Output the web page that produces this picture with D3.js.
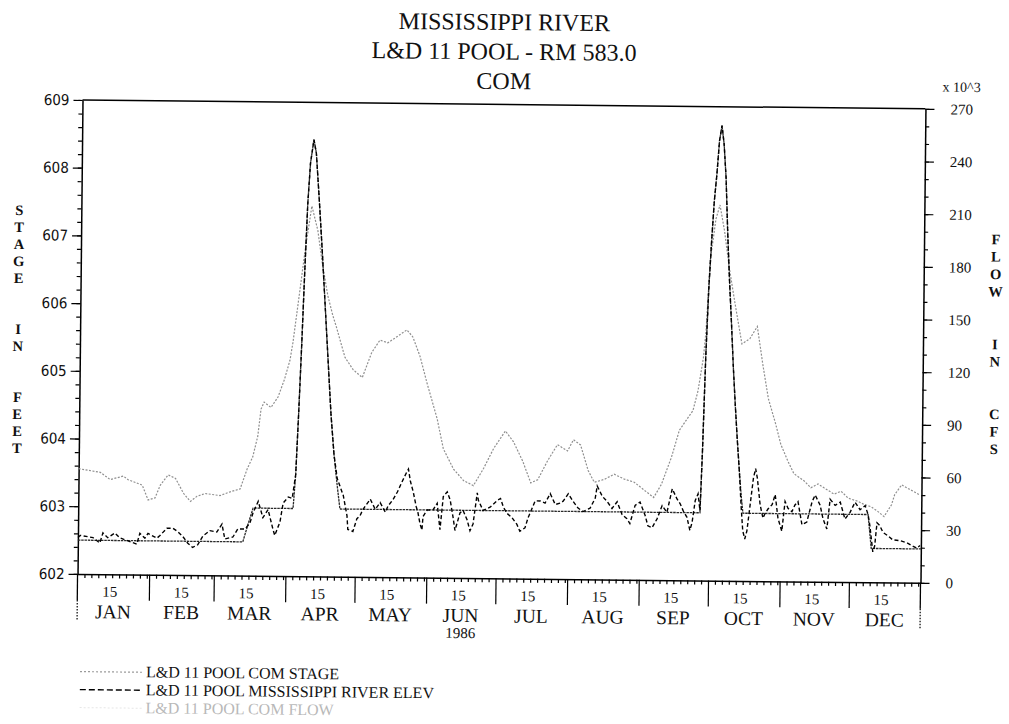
<!DOCTYPE html>
<html>
<head>
<meta charset="utf-8">
<script src="https://cdn.jsdelivr.net/npm/d3@7"></script>
<style>
  body { margin: 0; background: #fff; }
  svg { display: block; }
</style>
</head>
<body>
<svg id="chart" width="1009" height="724"></svg>
<script>
// ---- text ----
const titleLines = ["MISSISSIPPI RIVER", "L&D 11 POOL - RM 583.0", "COM"];
const monthNames = ["JAN","FEB","MAR","APR","MAY","JUN","JUL","AUG","SEP","OCT","NOV","DEC"];
const yearLabel = "1986";
const flowUnit = "x 10^3";
const leftTitle = "STAGE  IN  FEET";
const rightTitle = "FLOW  IN  CFS";
const legendLabels = [
  "L&D 11 POOL COM STAGE",
  "L&D 11 POOL MISSISSIPPI RIVER ELEV",
  "L&D 11 POOL COM FLOW"
];

// ---- tick values ----
const stageTicks = [602, 603, 604, 605, 606, 607, 608, 609];
const flowTicks = [0, 30, 60, 90, 120, 150, 180, 210, 240, 270];

// ---- series: [day of year (0 = Jan 1), value] ----
// pool stage, feet
const stage = [
  [0,602.5],[71.4,602.5],[73.5,602.75],[75.7,603.0],[93,603.0],[94,603.5],[95,604.4],[96,605.4],
  [97,606.5],[98,607.5],[99,608.1],[100.4,608.45],[101.5,608.25],[103,607.55],[104.5,606.8],
  [106,606.0],[107.5,605.2],[109,604.4],[110.5,603.8],[112,603.35],[113.3,603.0],[269.2,603.0],
  [270,603.9],[271,605.3],[272,606.3],[273,607.0],[274,607.6],[275,608.0],[276,608.5],[277,608.72],
  [278,608.45],[279,607.95],[280,607.1],[281,606.4],[282,605.8],[283,605.15],[284,604.6],
  [285,604.1],[286,603.65],[287,603.25],[287.8,603.0],[342,603.0],[343.5,602.5],[365,602.5]
];

// river elevation, feet
const elev = [
  [0,602.54],[1,602.57],[6.5,602.54],[9.5,602.46],[10.8,602.61],[12.9,602.54],[16,602.61],[18.1,602.54],
  [25.5,602.45],[26.8,602.61],[29,602.54],[30.3,602.61],[34.2,602.54],[35.5,602.58],[38.5,602.69],
  [41.1,602.69],[43.2,602.64],[45.4,602.57],[47.6,602.47],[49.7,602.41],[51.9,602.45],[54.1,602.58],
  [57.1,602.66],[60.1,602.64],[62.3,602.76],[63.6,602.54],[67.1,602.57],[69.2,602.69],[72.3,602.69],
  [74.4,602.78],[75.7,602.93],[77.9,603.1],[80,602.86],[82.2,602.98],[84.4,602.69],[85.2,602.6],
  [87.4,602.8],[88.7,603.08],[90.9,603.17],[92.6,603.15],
  [94,603.5],[95,604.4],[96,605.4],[97,606.5],[98,607.5],[99,608.1],[100.4,608.45],[101.5,608.25],
  [103,607.55],[104.5,606.8],[106,606.0],[107.5,605.2],[109,604.4],[110.5,603.8],[112,603.45],
  [114.7,603.2],[116.4,602.9],[116.8,602.7],[119,602.67],[120.7,602.86],[122,602.9],[123.3,603.0],
  [126.4,603.15],[128.6,603.0],[130.7,603.1],[133,602.96],[134.1,603.05],[136.3,603.15],[138.1,603.26],
  [140.2,603.42],[142,603.55],[142.8,603.6],[143.7,603.42],[145,603.26],[146.3,603.05],[147.1,602.96],
  [148,602.8],[148.9,602.7],[149.3,602.9],[151.1,603.0],[153.6,603.0],[155.4,603.1],[156.7,602.71],
  [158,603.2],[159.7,603.27],[161,603.15],[162.3,602.9],[163.2,602.7],[165.3,602.96],[166.6,603.0],
  [168.4,602.86],[169.7,602.7],[171,602.8],[172.7,603.26],[173.2,603.15],[175.3,603.0],[178.3,603.05],
  [181.4,603.15],[182.8,603.18],[184.1,603.05],[185.7,602.96],[187.8,602.9],[190,602.8],[191.3,602.7],
  [193.5,602.75],[194.8,602.9],[196.5,603.04],[197.8,603.15],[200,603.15],[202.1,603.12],[204.3,603.26],
  [206.5,603.1],[208.6,603.12],[209.9,603.15],[212.1,603.26],[214.2,603.15],[216.4,603.05],[218.6,603.0],
  [221.6,603.05],[223.8,603.2],[224.6,603.38],[226.8,603.23],[229,603.15],[231.1,603.05],[233.3,603.15],
  [235.5,602.96],[237.6,602.9],[238.9,602.83],[241.1,603.1],[243.2,603.15],[245.4,602.96],[246.7,602.8],
  [248.5,602.77],[250.6,602.9],[252.8,603.1],[254.9,603.0],[257.1,603.35],[259.2,603.2],[260.6,603.13],
  [261.9,603.03],[263.6,602.93],[264.9,602.74],[265.8,602.85],[267.1,603.18],[268.3,603.28],[269.2,603.03],
  [270,603.9],[271,605.3],[272,606.3],[273,607.0],[274,607.6],[275,608.0],[276,608.5],[277,608.72],
  [278,608.45],[279,607.95],[280,607.1],[281,606.4],[282,605.8],[283,605.15],[284,604.6],[285,604.1],
  [286,603.65],[287,603.1],[287.8,602.74],[288.7,602.62],[289.6,602.74],[290.9,603.13],[292.2,603.52],
  [293.1,603.66],[293.9,603.52],[295.2,603.13],[296.5,602.93],[297.4,603.0],[298.7,603.07],[300.4,603.13],
  [301.7,603.28],[303,602.93],[304.7,602.74],[306,603.18],[307.3,603.08],[309,603.03],[310.3,603.13],
  [311.6,603.18],[313.4,602.84],[315.5,602.88],[317.7,603.18],[319,603.28],[321.2,603.13],[322.5,602.93],
  [324.2,602.78],[325.5,603.22],[327.7,603.13],[329.9,603.18],[332,602.93],[334.2,603.03],[336.3,603.18],
  [338.5,603.07],[340.7,603.13],[342,603.0],[342.8,602.84],[343.7,602.59],[344.2,602.45],[345,602.54],
  [345.9,602.88],[347.1,602.84],[348.5,602.74],[350.6,602.69],[352.8,602.63],[355.8,602.62],
  [358.9,602.59],[361.5,602.54],[363.2,602.51],[364.6,602.55]
];

// discharge, thousands of cfs
const flow = [
  [0,60],[9.4,58],[13.7,54],[19.4,56],[21.5,54],[27.6,51],[30.2,42.6],[33.2,43.8],[35.4,51],[38.8,57],
  [42,55],[45.5,46.6],[48.5,42],[51.4,45],[54.9,46.6],[61.3,45.5],[65.7,47.7],[70,49.4],[73,61],
  [75.3,67.6],[77.4,79.5],[78.7,95],[80,99],[83,96],[86,102],[88.7,112],[91,123],[92.2,133],[95,163],
  [97,185],[99.8,211],[102.5,197],[104.5,179],[107.1,160],[109.3,149],[111,142],[114.8,125],[118.4,118],
  [122.4,113.6],[126.4,128],[129.9,135],[133.3,133.5],[137.2,137],[141.5,141],[144.1,137],[147.3,126],
  [150.4,111],[155,90.5],[157.8,73.5],[162.3,62],[166.7,55.5],[171,52.7],[175.3,62.5],[179.6,74],
  [184.6,84],[188.1,78],[192.2,67],[195.8,54.6],[198.8,56.4],[203,67.3],[207.2,76.5],[211.6,73],
  [214.1,79.4],[217.2,76.5],[220.6,62],[223.3,55.3],[227.6,57],[231.9,60],[236.3,57.3],[240.6,55.6],
  [245.1,51],[249.1,47],[252.4,54.6],[256.6,70],[259.9,85.4],[263.6,92.7],[265.7,96.7],[267.8,108],
  [270,127],[271,142],[272.5,182],[274.8,206],[276.5,214],[278.6,199],[280.7,179],[283.3,159],
  [286.6,135],[290,138],[293.2,145],[295.8,123],[298.3,104],[301.6,89.5],[303.9,78],[307,68.6],
  [309.7,61.4],[314.1,57.4],[317.1,53.5],[320.2,55.7],[322.8,53.5],[327.2,50],[330.2,51.7],[333.3,47.8],
  [337.6,46],[340.2,44.3],[343.3,43],[346.3,40.3],[348.9,37.5],[352.1,44.3],[353.4,50],[356.4,55.7],
  [359.4,53.5],[362,51.7],[364.2,50]
];

// ---- layout ----
const X0 = 80, X1 = 923, Y0 = 104.4, Y1 = 578.4;
const SERIF = "'Liberation Serif','Times New Roman',serif";
const NARROW = "'Liberation Sans Narrow','DejaVu Sans Condensed','Liberation Sans',sans-serif";

const yearStart = new Date(1986, 0, 1), yearEnd = new Date(1987, 0, 1);
const dayDate = d => new Date(yearStart.getTime() + d * 864e5);

const x = d3.scaleTime().domain([yearStart, yearEnd]).range([X0, X1]);
const yStage = d3.scaleLinear().domain([602, 609]).range([Y1, Y0]);
const yFlow = d3.scaleLinear().domain([0, 270]).range([Y1, Y0]);

const svg = d3.select("#chart");
svg.append("rect").attr("width", 1009).attr("height", 724).attr("fill", "#fff");

// the whole sheet sits slightly skewed on the page
const g = svg.append("g").attr("transform", "rotate(0.6,501.5,341.4)");

// ---- title ----
g.append("g").selectAll("text").data(titleLines).join("text")
  .attr("x", 501).attr("y", (d, i) => 30 + i * 29.5)
  .attr("text-anchor", "middle")
  .attr("font-family", SERIF).attr("font-size", 24).attr("fill", "#111")
  .text(d => d);

g.append("text").attr("x", 959).attr("y", 87).attr("text-anchor", "middle")
  .attr("font-family", SERIF).attr("font-size", 14).attr("fill", "#111")
  .text(flowUnit);

// ---- axes ----
function styleAxis(sel) {
  sel.selectAll("path.domain").attr("stroke", "#000").attr("stroke-width", 1.5);
  sel.selectAll(".tick line").attr("stroke", "#000").attr("stroke-width", 1.2);
}

// left: stage
const stageMinor = d3.range(0, 36).map(i => 602 + i * 0.2);
const leftMinor = g.append("g").attr("transform", `translate(${X0},0)`)
  .call(d3.axisLeft(yStage).tickValues(stageMinor).tickSize(4).tickSizeOuter(0).tickFormat(""));
leftMinor.select("path.domain").remove();
styleAxis(leftMinor);

const leftAxis = g.append("g").attr("transform", `translate(${X0},0)`)
  .call(d3.axisLeft(yStage).tickValues(stageTicks).tickSize(9).tickSizeOuter(0)
    .tickPadding(4).tickFormat(d3.format("d")));
styleAxis(leftAxis);
leftAxis.selectAll("text").attr("font-family", NARROW).attr("font-size", 15).attr("fill", "#111");

// right: flow
const flowMinor = d3.range(0, 271, 10);
const rightMinor = g.append("g").attr("transform", `translate(${X1},0)`)
  .call(d3.axisRight(yFlow).tickValues(flowMinor).tickSize(4).tickSizeOuter(0).tickFormat(""));
rightMinor.select("path.domain").remove();
styleAxis(rightMinor);

const rightAxis = g.append("g").attr("transform", `translate(${X1},0)`)
  .call(d3.axisRight(yFlow).tickValues(flowTicks).tickSize(9).tickSizeOuter(0)
    .tickPadding(16).tickFormat(d3.format("d")));
styleAxis(rightAxis);
rightAxis.selectAll("text").attr("font-family", SERIF).attr("font-size", 15).attr("fill", "#111");

// top frame line
g.append("line").attr("x1", X0).attr("x2", X1).attr("y1", Y0).attr("y2", Y0)
  .attr("stroke", "#000").attr("stroke-width", 1.5);

// bottom: days within each month
const minorDates = [];
for (let m = 0; m < 12; m++) {
  const n = new Date(1986, m + 1, 0).getDate();
  for (let d = 4; d <= n; d += 3) minorDates.push(new Date(1986, m, d));
}
const bottomMinor = g.append("g").attr("transform", `translate(0,${Y1})`)
  .call(d3.axisBottom(x).tickValues(minorDates).tickSize(4).tickSizeOuter(0).tickFormat(""));
styleAxis(bottomMinor);

const monthStarts = d3.range(1, 12).map(m => new Date(1986, m, 1));
const bottomMonths = g.append("g").attr("transform", `translate(0,${Y1})`)
  .call(d3.axisBottom(x).tickValues(monthStarts).tickSize(26).tickSizeOuter(0).tickFormat(""));
bottomMonths.select("path.domain").remove();
styleAxis(bottomMonths);

// year ends: long edge marks
[yearStart, yearEnd].forEach(dt => {
  g.append("line").attr("x1", x(dt)).attr("x2", x(dt)).attr("y1", Y1).attr("y2", Y1 + 26)
    .attr("stroke", "#000").attr("stroke-width", 1.3);
  g.append("line").attr("x1", x(dt)).attr("x2", x(dt)).attr("y1", Y1 + 26).attr("y2", Y1 + 46)
    .attr("stroke", "#000").attr("stroke-width", 1.2).attr("stroke-dasharray", "1.5,1.5");
});

// "15" marks and month names
g.append("g").selectAll("text").data(monthNames).join("text")
  .attr("x", (d, i) => x(new Date(1986, i, 15)))
  .attr("y", Y1 + 22.5).attr("text-anchor", "middle")
  .attr("font-family", SERIF).attr("font-size", 15).attr("fill", "#111")
  .text("15");

g.append("g").selectAll("text").data(monthNames).join("text")
  .attr("x", (d, i) => (x(new Date(1986, i, 1)) + x(new Date(1986, i + 1, 1))) / 2)
  .attr("y", Y1 + 44).attr("text-anchor", "middle")
  .attr("font-family", SERIF).attr("font-size", 19.5).attr("fill", "#111")
  .text(d => d);

g.append("text")
  .attr("x", (x(new Date(1986, 5, 1)) + x(new Date(1986, 6, 1))) / 2)
  .attr("y", Y1 + 60).attr("text-anchor", "middle")
  .attr("font-family", SERIF).attr("font-size", 15).attr("fill", "#111")
  .text(yearLabel);

// stacked axis titles
g.append("g").selectAll("text").data(leftTitle.split("")).join("text")
  .attr("x", 18).attr("y", (d, i) => 215 + i * 17)
  .attr("text-anchor", "middle").attr("dominant-baseline", "central")
  .attr("font-family", SERIF).attr("font-weight", "bold").attr("font-size", 14.5).attr("fill", "#111")
  .text(d => d.trim());

g.append("g").selectAll("text").data(rightTitle.split("")).join("text")
  .attr("x", 995).attr("y", (d, i) => 234 + i * 17.5)
  .attr("text-anchor", "middle").attr("dominant-baseline", "central")
  .attr("font-family", SERIF).attr("font-weight", "bold").attr("font-size", 14.5).attr("fill", "#111")
  .text(d => d.trim());

// ---- series ----
const stageLine = d3.line().x(d => x(dayDate(d[0]))).y(d => yStage(d[1]));
const flowLine = d3.line().x(d => x(dayDate(d[0]))).y(d => yFlow(d[1]));

g.append("path").datum(flow).attr("d", flowLine)
  .attr("fill", "none").attr("stroke", "#8f8f8f").attr("stroke-width", 1.2)
  .attr("stroke-dasharray", "2,1.5");

g.append("path").datum(stage).attr("d", stageLine)
  .attr("fill", "none").attr("stroke", "#2a2a2a").attr("stroke-width", 1.3)
  .attr("stroke-dasharray", "2.5,0.8");

g.append("path").datum(elev).attr("d", stageLine)
  .attr("fill", "none").attr("stroke", "#000").attr("stroke-width", 1.4)
  .attr("stroke-dasharray", "4,2.5");

// ---- legend ----
const legendStyles = [
  { stroke: "#9a9a9a", dash: "2,2", width: 1.2, text: "#111" },
  { stroke: "#000", dash: "6,3", width: 1.4, text: "#111" },
  { stroke: "#e6e6e6", dash: "2,2", width: 1, text: "#b8b8b8" }
];
const legend = g.append("g");
legendLabels.forEach((label, i) => {
  const by = 681 + i * 18;
  const st = legendStyles[i];
  legend.append("line").attr("x1", 83.5).attr("x2", 146.5).attr("y1", by - 5).attr("y2", by - 5)
    .attr("stroke", st.stroke).attr("stroke-width", st.width).attr("stroke-dasharray", st.dash);
  legend.append("text").attr("x", 149.5).attr("y", by)
    .attr("font-family", SERIF).attr("font-size", 16).attr("fill", st.text)
    .text(label);
});
</script>
</body>
</html>
